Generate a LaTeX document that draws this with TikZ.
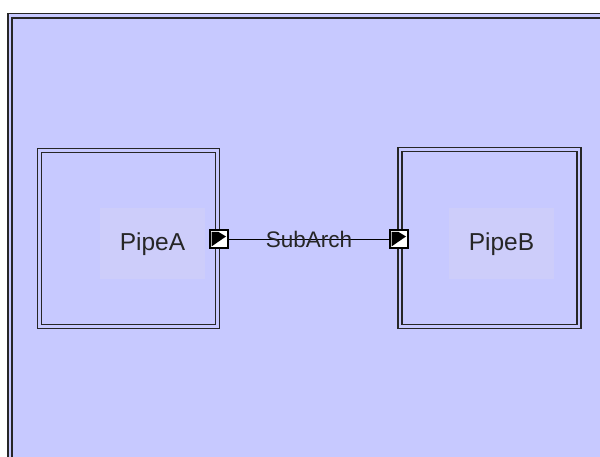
\documentclass[tikz,border=0pt]{standalone}
\usepackage{fontspec}
\setmainfont{Liberation Sans}
\begin{document}
\begin{tikzpicture}[x=1pt,y=-1pt,
  every node/.style={inner sep=0pt,outer sep=0pt},
  frameline/.style={draw=black!85,line width=1.6pt,double=bgblue,double distance=2.6pt},
  pipebox/.style={frameline,fill=bgblue,minimum width=178pt,minimum height=176pt},
  labelbg/.style={fill=lblblue,minimum width=105pt,minimum height=71pt},
  lbltext/.style={text=black!85,font=\fontsize{24.5pt}{28pt}\selectfont},
  portbox/.style={draw=black,line width=1.5pt,fill=white,minimum width=18pt,minimum height=18pt},
  conn/.style={draw=black,line width=0.9pt}]
\definecolor{bgblue}{RGB}{199,201,255}
\definecolor{lblblue}{RGB}{205,205,250}
\useasboundingbox (0,0) rectangle (600,457);
\clip (0,0) rectangle (600,457);
\fill[white] (0,0) rectangle (600,457);
% outer frame
\fill[bgblue] (8,13) rectangle (640,500);
\draw[frameline] (10,15.7) rectangle (630,490);
% pipes
\node[pipebox] (pipeA) at (128.5,238.5) {};
\node[pipebox,minimum width=179pt,minimum height=177pt] (pipeB) at (489.5,238) {};
% labels
\node[labelbg] (bgA) at (152.5,244) {};
\node[lbltext] (txtA) at (152.5,244) {PipeA};
\node[labelbg] (bgB) at (501.5,244) {};
\node[lbltext] (txtB) at (501.5,244) {PipeB};
% ports
\node[portbox] (portA) at (219,239) {};
\node[portbox] (portB) at (399,239) {};
\foreach \p in {portA,portB}{
  \fill[black] ([shift={(-7.5,-7)}]\p.center) -- ([shift={(-0.5,-7)}]\p.center)
    -- ([shift={(7,-2.5)}]\p.center) -- ([shift={(-2.5,4)}]\p.center)
    -- ([shift={(-7.5,7.5)}]\p.center) -- cycle;
}
% connector
\draw[conn] (portA.east) -- (portB.west)
  node[midway,lbltext,font=\fontsize{22.5pt}{26pt}\selectfont] (lblC) {SubArch};
\end{tikzpicture}
\end{document}
